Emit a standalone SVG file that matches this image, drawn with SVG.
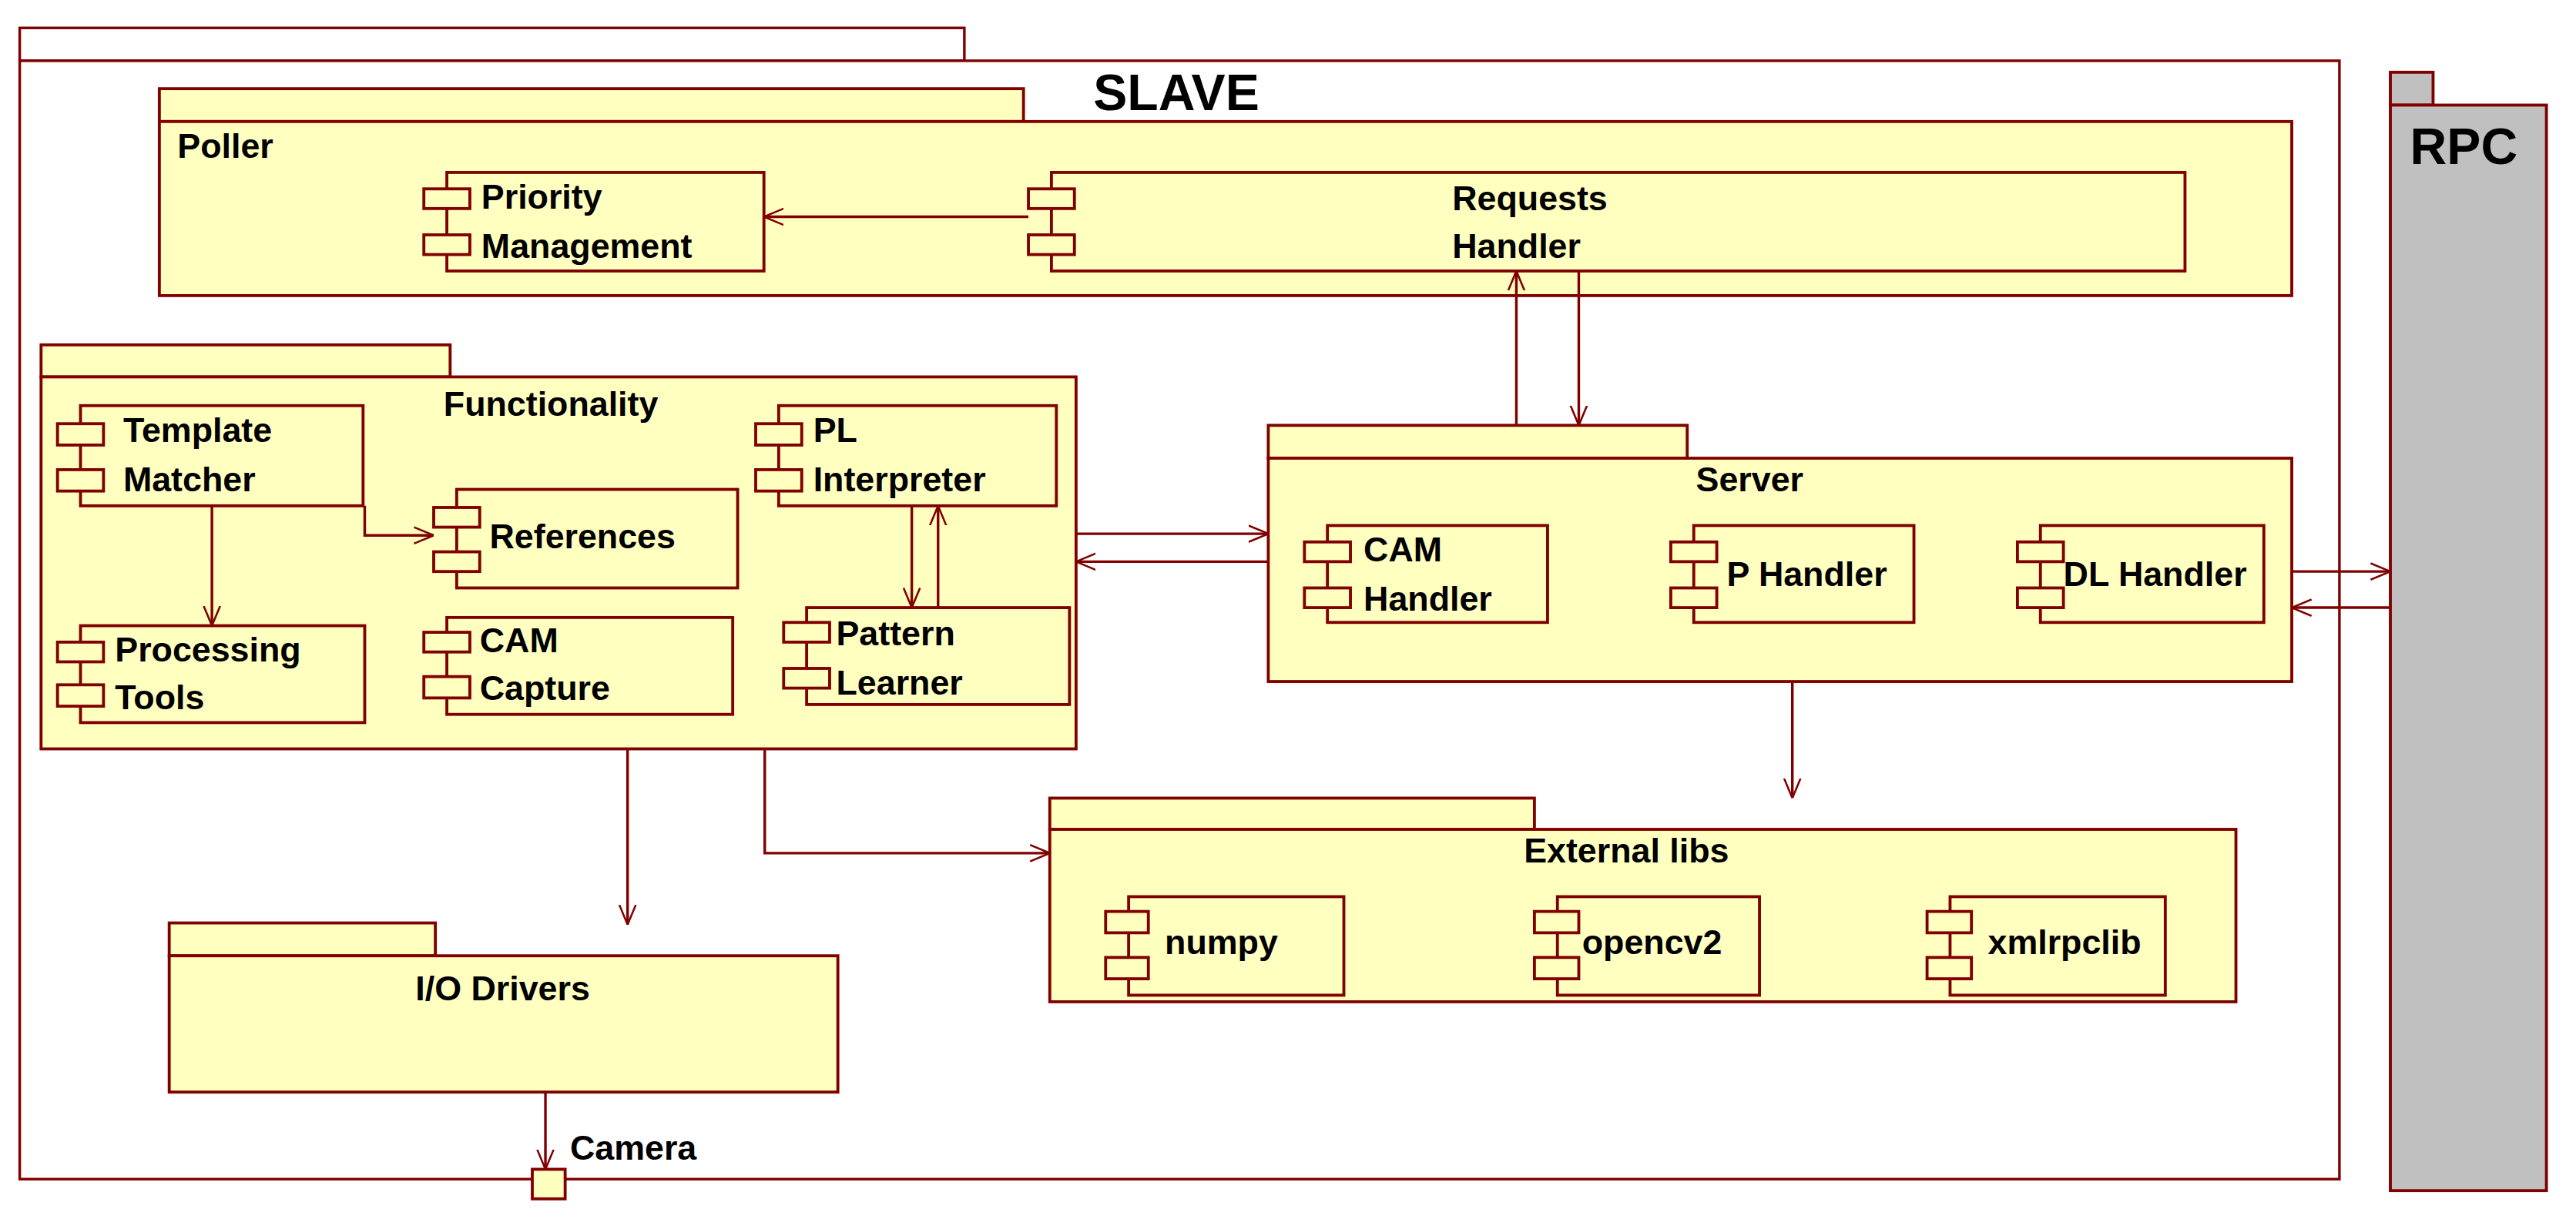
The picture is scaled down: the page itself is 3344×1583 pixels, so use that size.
<svg xmlns="http://www.w3.org/2000/svg" width="3344" height="1583" viewBox="0 0 3344 1583">
<style>
.pk{fill:#ffffc0;stroke:#800000;stroke-width:1.8}
.wh{fill:#ffffff;stroke:#800000;stroke-width:1.6}
.rpc{fill:#c0c0c0;stroke:#800000;stroke-width:1.8}
.cb{fill:#ffffc0;stroke:#800000;stroke-width:1.8}
.pt{fill:#ffffc0;stroke:#800000;stroke-width:1.8}
.t{font-family:"Liberation Sans",Arial,sans-serif;font-weight:bold;font-size:21px;fill:#000}
.big{font-family:"Liberation Sans",Arial,sans-serif;font-weight:bold;font-size:31px;fill:#000}
.ln{fill:none;stroke:#800000;stroke-width:1.6}
</style>
<defs>
<marker id="ah" viewBox="0 0 12 12" refX="12" refY="6" markerWidth="12" markerHeight="12" markerUnits="userSpaceOnUse" orient="auto">
<path d="M0,1 L12,6 L0,11" fill="none" stroke="#800000" stroke-width="1.2"/>
</marker>
</defs>
<rect width="3344" height="1583" fill="#fff"/>
<g transform="scale(2.13265)">
<g id="slave">
<rect class="wh" x="12" y="17" width="575" height="20"/>
<rect class="wh" x="12" y="37" width="1412" height="681"/>
<text class="big" x="716" y="67" text-anchor="middle">SLAVE</text>
</g>
<g id="rpc">
<rect class="rpc" x="1455" y="44" width="26" height="20"/>
<rect class="rpc" x="1455" y="64" width="95" height="661"/>
<text class="big" x="1467" y="100">RPC</text>
</g>
<g id="poller">
<rect class="pk" x="97" y="54" width="526" height="20"/>
<rect class="pk" x="97" y="74" width="1298" height="106"/>
<text class="t" x="108" y="96">Poller</text>
</g>
<g id="priority">
<rect class="cb" x="272" y="105" width="193" height="60"/>
<rect class="pt" x="258" y="115" width="28" height="12"/><rect class="pt" x="258" y="143" width="28" height="12"/>
<text class="t" x="293" y="127">Priority</text><text class="t" x="293" y="157">Management</text>
</g>
<g id="requests">
<rect class="cb" x="640" y="105" width="690" height="60"/>
<rect class="pt" x="626" y="115" width="28" height="12"/><rect class="pt" x="626" y="143" width="28" height="12"/>
<text class="t" x="884" y="128">Requests</text><text class="t" x="884" y="157">Handler</text>
</g>
<g id="functionality">
<rect class="pk" x="25" y="210" width="249" height="19.5"/>
<rect class="pk" x="25" y="229.5" width="630" height="226.5"/>
<text class="t" x="270" y="253">Functionality</text>
</g>
<g id="template">
<rect class="cb" x="49" y="247" width="172" height="61"/>
<rect class="pt" x="35" y="258" width="28" height="13"/><rect class="pt" x="35" y="286" width="28" height="13"/>
<text class="t" x="75" y="269">Template</text><text class="t" x="75" y="299">Matcher</text>
</g>
<g id="references">
<rect class="cb" x="278" y="298" width="171" height="60"/>
<rect class="pt" x="264" y="309" width="28" height="12"/><rect class="pt" x="264" y="336" width="28" height="12"/>
<text class="t" x="298" y="334">References</text>
</g>
<g id="pl">
<rect class="cb" x="474" y="247" width="169" height="61"/>
<rect class="pt" x="460" y="258" width="28" height="13"/><rect class="pt" x="460" y="286" width="28" height="13"/>
<text class="t" x="495" y="269">PL</text><text class="t" x="495" y="299">Interpreter</text>
</g>
<g id="processing">
<rect class="cb" x="49" y="381" width="173" height="59"/>
<rect class="pt" x="35" y="391" width="28" height="12"/><rect class="pt" x="35" y="417" width="28" height="13"/>
<text class="t" x="70" y="403">Processing</text><text class="t" x="70" y="432">Tools</text>
</g>
<g id="camcapture">
<rect class="cb" x="272" y="376" width="174" height="59"/>
<rect class="pt" x="258" y="385" width="28" height="12"/><rect class="pt" x="258" y="412" width="28" height="13"/>
<text class="t" x="292" y="397">CAM</text><text class="t" x="292" y="426">Capture</text>
</g>
<g id="pattern">
<rect class="cb" x="491" y="370" width="160" height="59"/>
<rect class="pt" x="477" y="379" width="28" height="12"/><rect class="pt" x="477" y="407" width="28" height="12"/>
<text class="t" x="509" y="393">Pattern</text><text class="t" x="509" y="423">Learner</text>
</g>
<g id="server">
<rect class="pk" x="772" y="259" width="255" height="20"/>
<rect class="pk" x="772" y="279" width="623" height="136"/>
<text class="t" x="1065" y="299" text-anchor="middle">Server</text>
</g>
<g id="camhandler">
<rect class="cb" x="808" y="320" width="134" height="59"/>
<rect class="pt" x="794" y="330" width="28" height="12"/><rect class="pt" x="794" y="358" width="28" height="12"/>
<text class="t" x="830" y="342">CAM</text><text class="t" x="830" y="372">Handler</text>
</g>
<g id="phandler">
<rect class="cb" x="1031" y="320" width="134" height="59"/>
<rect class="pt" x="1017" y="330" width="28" height="12"/><rect class="pt" x="1017" y="358" width="28" height="12"/>
<text class="t" x="1051" y="357">P Handler</text>
</g>
<g id="dlhandler">
<rect class="cb" x="1242" y="320" width="136" height="59"/>
<rect class="pt" x="1228" y="330" width="28" height="12"/><rect class="pt" x="1228" y="358" width="28" height="12"/>
<text class="t" x="1256" y="357">DL Handler</text>
</g>
<g id="iodrivers">
<rect class="pk" x="103" y="562" width="162" height="20"/>
<rect class="pk" x="103" y="582" width="407" height="83"/>
<text class="t" x="306" y="609" text-anchor="middle">I/O Drivers</text>
</g>
<g id="camera">
<rect class="pk" x="324" y="712" width="20" height="18"/>
<text class="t" x="347" y="706">Camera</text>
</g>
<g id="extlibs">
<rect class="pk" x="639" y="486" width="295" height="19"/>
<rect class="pk" x="639" y="505" width="722" height="105"/>
<text class="t" x="990" y="525" text-anchor="middle">External libs</text>
</g>
<g id="numpy">
<rect class="cb" x="687" y="546" width="131" height="60"/>
<rect class="pt" x="673" y="555" width="26" height="13"/><rect class="pt" x="673" y="583" width="26" height="13"/>
<text class="t" x="709" y="581">numpy</text>
</g>
<g id="opencv2">
<rect class="cb" x="948" y="546" width="123" height="60"/>
<rect class="pt" x="934" y="555" width="27" height="13"/><rect class="pt" x="934" y="583" width="27" height="13"/>
<text class="t" x="963" y="581">opencv2</text>
</g>
<g id="xmlrpclib">
<rect class="cb" x="1187" y="546" width="131" height="60"/>
<rect class="pt" x="1173" y="555" width="27" height="13"/><rect class="pt" x="1173" y="583" width="27" height="13"/>
<text class="t" x="1210" y="581">xmlrpclib</text>
</g>
<g id="connectors">
<path class="ln" d="M626,132 H465" marker-end="url(#ah)"/>
<path class="ln" d="M923,259 V165" marker-end="url(#ah)"/>
<path class="ln" d="M961,165 V259" marker-end="url(#ah)"/>
<path class="ln" d="M222,308 V326 H264" marker-end="url(#ah)"/>
<path class="ln" d="M129,308 V381" marker-end="url(#ah)"/>
<path class="ln" d="M555,308 V370" marker-end="url(#ah)"/>
<path class="ln" d="M571,370 V308" marker-end="url(#ah)"/>
<path class="ln" d="M655,325 H772" marker-end="url(#ah)"/>
<path class="ln" d="M772,342 H655" marker-end="url(#ah)"/>
<path class="ln" d="M1395,348 H1455" marker-end="url(#ah)"/>
<path class="ln" d="M1455,370 H1395" marker-end="url(#ah)"/>
<path class="ln" d="M1091,415 V486" marker-end="url(#ah)"/>
<path class="ln" d="M382,456 V563" marker-end="url(#ah)"/>
<path class="ln" d="M465.5,456 V519.5 H639" marker-end="url(#ah)"/>
<path class="ln" d="M332,665 V712" marker-end="url(#ah)"/>
</g>
</g>
</svg>
